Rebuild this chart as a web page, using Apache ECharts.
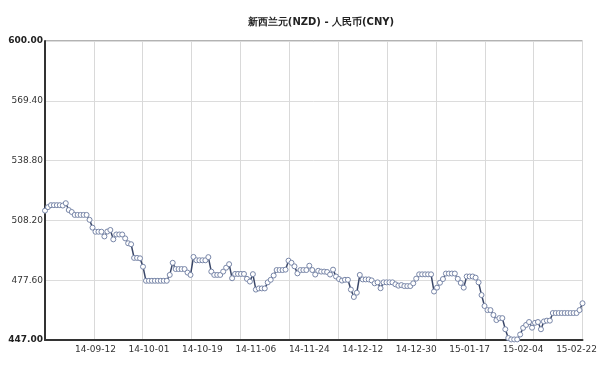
<!DOCTYPE html>
<html>
<head>
<meta charset="utf-8">
<script src="https://cdn.jsdelivr.net/npm/echarts@6/dist/echarts.min.js"></script>
<style>html,body{margin:0;padding:0;background:#fff;}#c{width:600px;height:366px;}</style>
</head>
<body>
<div id="c"></div>
<script>
const chartTitle = '新西兰元(NZD) - 人民币(CNY)';
const dates = [
'14-08-26','14-08-27','14-08-28','14-08-29','14-08-30','14-08-31',
'14-09-01','14-09-02','14-09-03','14-09-04','14-09-05','14-09-06','14-09-07','14-09-08','14-09-09','14-09-10','14-09-11','14-09-12',
'14-09-13','14-09-14','14-09-15','14-09-16','14-09-17','14-09-18','14-09-19','14-09-20',
'14-09-22','14-09-23','14-09-24','14-09-25','14-09-26','14-09-27','14-09-28','14-09-29','14-09-30',
'14-10-01','14-10-02','14-10-03','14-10-04','14-10-05','14-10-06','14-10-07','14-10-08','14-10-09','14-10-10',
'14-10-11','14-10-12','14-10-13','14-10-14','14-10-15','14-10-16','14-10-17','14-10-18','14-10-19','14-10-20',
'14-10-21','14-10-22','14-10-23','14-10-24','14-10-25','14-10-26','14-10-27','14-10-28','14-10-29','14-10-30','14-10-31',
'14-11-01','14-11-02','14-11-03','14-11-04','14-11-05','14-11-06','14-11-07','14-11-08','14-11-09','14-11-10',
'14-11-11','14-11-12','14-11-13','14-11-14','14-11-15','14-11-16','14-11-17','14-11-18','14-11-19','14-11-20',
'14-11-21','14-11-22','14-11-23','14-11-24','14-11-25','14-11-26','14-11-27','14-11-28','14-11-29','14-11-30',
'14-12-01','14-12-02','14-12-03','14-12-04','14-12-05','14-12-06','14-12-07','14-12-08','14-12-09','14-12-10',
'14-12-11','14-12-12','14-12-13','14-12-14','14-12-15','14-12-16','14-12-17','14-12-18','14-12-19','14-12-20',
'14-12-21','14-12-22','14-12-23','14-12-24','14-12-25','14-12-26','14-12-27','14-12-28','14-12-29','14-12-30','14-12-31',
'15-01-01','15-01-02','15-01-03','15-01-04','15-01-05','15-01-06','15-01-07','15-01-08','15-01-09','15-01-10',
'15-01-11','15-01-12','15-01-13','15-01-14','15-01-15','15-01-16','15-01-17','15-01-18','15-01-19','15-01-20',
'15-01-21','15-01-22','15-01-23','15-01-24','15-01-25','15-01-26','15-01-27','15-01-28','15-01-29','15-01-30','15-01-31',
'15-02-01','15-02-02','15-02-03','15-02-04','15-02-05','15-02-06','15-02-07','15-02-08','15-02-09','15-02-10',
'15-02-11','15-02-12','15-02-13','15-02-14','15-02-15','15-02-16','15-02-17','15-02-18','15-02-19','15-02-20',
'15-02-21','15-02-22','15-02-23','15-02-24'
];
const rates = [
513.2, 515.0, 516.0, 516.0, 516.0, 516.0, 515.8, 517.0, 513.5, 512.5,
511.0, 511.0, 511.0, 511.0, 511.0, 508.5, 504.5, 502.4, 502.4, 502.4,
500.0, 502.5, 503.3, 498.5, 501.0, 501.0, 501.0, 499.0, 496.5, 496.0,
489.0, 489.0, 488.8, 484.5, 477.3, 477.3, 477.3, 477.3, 477.3, 477.3,
477.3, 477.3, 480.3, 486.5, 483.3, 483.3, 483.3, 483.3, 481.5, 480.3,
489.5, 487.8, 487.8, 487.8, 487.8, 489.4, 482.0, 480.3, 480.3, 480.3,
482.0, 484.0, 485.8, 478.6, 480.8, 480.8, 480.8, 480.8, 478.3, 476.9,
480.7, 472.8, 473.4, 473.4, 473.4, 476.5, 477.8, 480.0, 482.8, 482.8,
482.8, 483.0, 487.6, 486.5, 484.7, 481.1, 482.8, 482.8, 482.8, 485.0,
482.8, 480.5, 482.4, 482.0, 482.0, 481.8, 480.5, 483.0, 479.5, 478.2,
477.4, 477.8, 477.8, 472.8, 469.0, 471.2, 480.3, 478.0, 478.0, 478.0,
477.5, 476.0, 476.5, 473.5, 476.5, 476.5, 476.5, 476.5, 475.5, 474.8,
475.1, 474.6, 474.6, 474.6, 476.0, 478.4, 480.6, 480.6, 480.6, 480.6,
480.6, 471.8, 473.8, 476.3, 478.2, 481.0, 481.0, 481.0, 481.0, 478.3,
476.2, 473.8, 479.5, 479.5, 479.5, 478.9, 476.5, 470.0, 464.4, 462.3,
462.3, 459.8, 457.2, 458.2, 458.2, 452.5, 448.0, 447.3, 447.3, 447.3,
449.8, 453.2, 454.7, 456.2, 453.3, 455.8, 456.2, 452.5, 456.5, 456.9,
456.9, 460.8, 460.8, 460.8, 460.8, 460.8, 460.8, 460.8, 460.8, 460.8,
462.3, 465.8
];
const xTickLabels = ['14-09-12','14-10-01','14-10-19','14-11-06','14-11-24','14-12-12','14-12-30','15-01-17','15-02-04','15-02-22'];
const yTicks = [447, 477.6, 508.2, 538.8, 569.4, 600];
const yMin = 447, yMax = 600;
const vGridDivisions = 11;

const chart = echarts.init(document.getElementById('c'), null, {renderer: 'canvas'});
const fontFamily = 'DejaVu Sans, Verdana, sans-serif';
chart.setOption({
  animation: false,
  backgroundColor: '#ffffff',
  title: {
    text: chartTitle,
    left: 316, top: 12, textAlign: 'center',
    textStyle: {fontSize: 10, fontWeight: 'bold', color: '#222', fontFamily: fontFamily}
  },
  grid: {left: 45, right: 12, top: 41, bottom: 26, show: true, borderColor: '#666', borderWidth: 1, backgroundColor: 'transparent'},
  xAxis: [{
    type: 'category',
    data: dates,
    boundaryGap: false,
    axisLine: {show: true, lineStyle: {color: '#333', width: 2}},
    axisTick: {show: false},
    splitLine: {show: false},
    axisLabel: {
      interval: function (idx, val) { return xTickLabels.indexOf(val) >= 0; },
      color: '#333', fontSize: 9, fontFamily: fontFamily, margin: 5, hideOverlap: false
    }
  }, {
    type: 'value',
    position: 'top',
    min: 0, max: vGridDivisions, interval: 1,
    axisLine: {show: false}, axisTick: {show: false}, axisLabel: {show: false},
    splitLine: {show: true, lineStyle: {color: '#d9d9d9', width: 1}}
  }],
  yAxis: {
    type: 'value',
    min: yMin, max: yMax,
    axisLine: {show: true, lineStyle: {color: '#333', width: 2}},
    axisTick: {show: false, customValues: yTicks},
    splitLine: {show: true, lineStyle: {color: '#dcdcdc', width: 1}},
    axisLabel: {
      customValues: yTicks,
      margin: 2,
      color: '#333', fontSize: 9, fontFamily: fontFamily,
      formatter: function (v) {
        const s = Number(v).toFixed(2);
        return (v === yMin || v === yMax) ? '{b|' + s + '}' : s;
      },
      rich: {b: {fontWeight: 'bold', fontSize: 9, color: '#222', fontFamily: fontFamily}}
    }
  },
  series: [{
    type: 'line',
    xAxisIndex: 0,
    data: rates,
    symbol: 'circle',
    symbolSize: 5,
    showAllSymbol: true,
    lineStyle: {color: '#3a4768', width: 1.5},
    itemStyle: {color: '#ffffff', borderColor: '#7886a8', borderWidth: 1},
    clip: false
  }]
});
</script>
</body>
</html>
